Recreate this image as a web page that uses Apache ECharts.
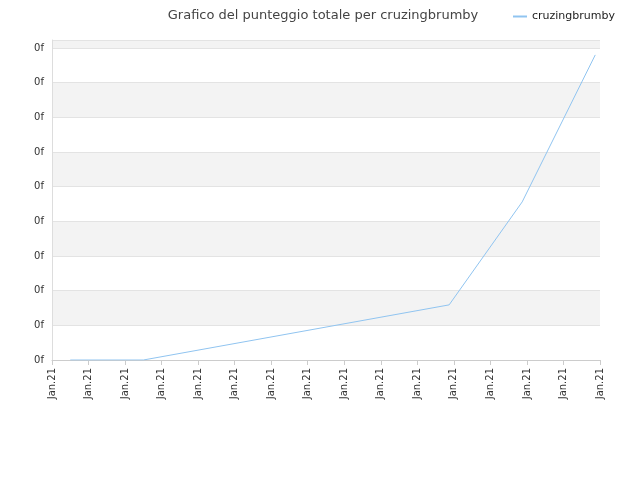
<!DOCTYPE html>
<html><head><meta charset="utf-8">
<script src="https://cdn.jsdelivr.net/npm/echarts@6/dist/echarts.min.js"></script>
<style>html,body{margin:0;padding:0}#c{width:640px;height:480px}</style>
</head><body><div id="c"></div>
<script>
const xPositions = [0.5, 2.5, 10.87, 12.87, 14.87];
const yValues = [0, 0, 1.59, 4.56, 8.8];
const xTickLabel = 'Jan.21';
const yTickLabel = '0f';
const seriesName = 'cruzingbrumby';
const chart = echarts.init(document.getElementById('c'));
chart.setOption({
  animation: false,
  title: {text: 'Grafico del punteggio totale per cruzingbrumby', left: 318, top: 4, textAlign: 'center',
    textStyle: {fontFamily: 'DejaVu Sans', fontSize: 13, fontWeight: 'normal', color: '#444'}},
  legend: {right: 20, top: 6, itemWidth: 14, itemHeight: 2, icon: 'rect',
    textStyle: {fontFamily: 'DejaVu Sans', fontSize: 11, color: '#222'}, data: [seriesName]},
  grid: {left: 52, right: 40, top: 40, bottom: 120},
  xAxis: {type: 'value', min: 0, max: 15, interval: 1,
    axisLine: {lineStyle: {color: '#ccc'}}, axisTick: {show: true, lineStyle: {color: '#ccc'}},
    splitLine: {show: false},
    axisLabel: {formatter: () => xTickLabel, rotate: 90, fontFamily: 'DejaVu Sans', fontSize: 10, color: '#333'}},
  yAxis: {type: 'value', min: 0, max: 9.23, interval: 1,
    axisLine: {show: true, lineStyle: {color: '#ddd'}}, axisTick: {show: false},
    splitLine: {lineStyle: {color: '#e3e3e3'}},
    splitArea: {show: true, areaStyle: {color: ['#ffffff', '#f3f3f3']}},
    axisLabel: {formatter: (v) => v > 9.01 ? '' : yTickLabel, fontFamily: 'DejaVu Sans', fontSize: 10, color: '#333'}},
  series: [{name: seriesName, type: 'line', showSymbol: false,
    lineStyle: {color: '#90c4f0', width: 1}, itemStyle: {color: '#90c4f0'},
    data: xPositions.map((x, i) => [x, yValues[i]])}]
});
</script></body></html>
